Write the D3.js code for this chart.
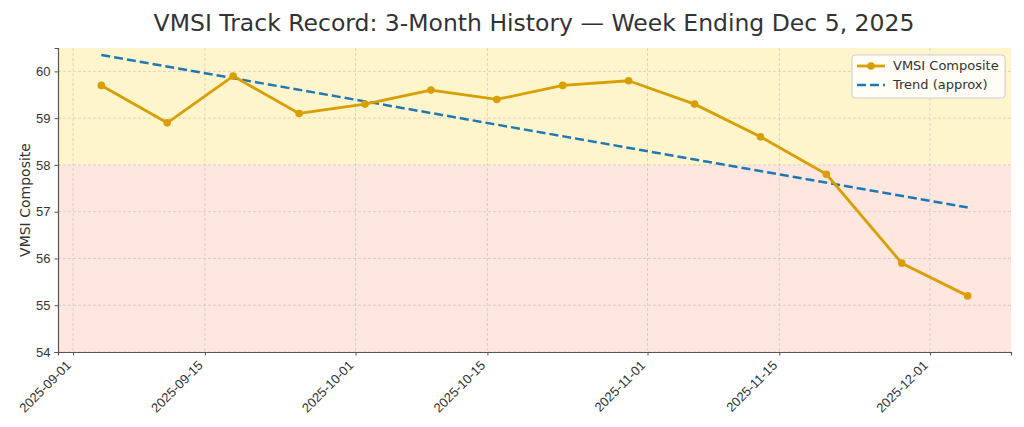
<!DOCTYPE html>
<html>
<head>
<meta charset="utf-8">
<script src="https://cdn.jsdelivr.net/npm/d3@7"></script>
<style>
  body { margin: 0; background: #fff; }
  svg { font-family: "DejaVu Sans", sans-serif; }
</style>
</head>
<body>
<svg id="chart" width="1024" height="427"></svg>
<script>
// weekly readings
var dates = ["2025-09-04", "2025-09-11", "2025-09-18", "2025-09-25", "2025-10-02", "2025-10-09",
	"2025-10-16", "2025-10-23", "2025-10-30", "2025-11-06", "2025-11-13", "2025-11-20",
	"2025-11-28", "2025-12-05"];
var values = [59.7, 58.9, 59.9, 59.1, 59.3, 59.6, 59.4, 59.7, 59.8, 59.3, 58.6, 57.8, 55.9, 55.2];

// fitted trend, endpoints only
var trendDates = ["2025-09-04", "2025-12-05"];
var trendValues = [60.35, 57.09];

var xTicks = ["2025-09-01", "2025-09-15", "2025-10-01", "2025-10-15", "2025-11-01", "2025-11-15", "2025-12-01"];
var yTicks = [54, 55, 56, 57, 58, 59, 60];
var zoneSplit = 58;

var parse = d3.utcParse("%Y-%m-%d");
var fmt = d3.utcFormat("%Y-%m-%d");

var svg = d3.select("#chart"),
	margin = {top: 48, right: 13, bottom: 75, left: 58},
	width = +svg.attr("width") - margin.left - margin.right,
	height = +svg.attr("height") - margin.top - margin.bottom;

var pts = dates.map(function(d, i){ return {date: parse(d), value: values[i]}; });
var trend = trendDates.map(function(d, i){ return {date: parse(d), value: trendValues[i]}; });

// matplotlib-ish 5% padding on x
var x0 = pts[0].date, x1 = pts[pts.length - 1].date;
var pad = (x1 - x0) * 0.05;
var x = d3.scaleUtc()
	.domain([new Date(+x0 - pad), new Date(+x1 + pad)])
	.range([0, width]);
var y = d3.scaleLinear().domain([54, 60.5]).range([height, 0]);

var g = svg.append("g").attr("transform", "translate(" + margin.left + "," + margin.top + ")");

// zones
g.append("rect")
	.attr("x", 0).attr("y", y(60.5))
	.attr("width", width).attr("height", y(zoneSplit) - y(60.5))
	.style("fill", "#fff5cc");
g.append("rect")
	.attr("x", 0).attr("y", y(zoneSplit))
	.attr("width", width).attr("height", y(54) - y(zoneSplit))
	.style("fill", "#ffe7df");

// grid
g.append("g").selectAll("line")
	.data(xTicks)
	.enter().append("line")
	.attr("x1", function(d){ return x(parse(d)); })
	.attr("x2", function(d){ return x(parse(d)); })
	.attr("y1", 0).attr("y2", height)
	.style("stroke", "#b0b0b0").style("stroke-opacity", 0.6)
	.style("stroke-width", 0.8).style("stroke-dasharray", "3,2");
g.append("g").selectAll("line")
	.data(yTicks)
	.enter().append("line")
	.attr("x1", 0).attr("x2", width)
	.attr("y1", function(d){ return y(d); })
	.attr("y2", function(d){ return y(d); })
	.style("stroke", "#b0b0b0").style("stroke-opacity", 0.6)
	.style("stroke-width", 0.8).style("stroke-dasharray", "3,2");

// trend
var line = d3.line()
	.x(function(d){ return x(d.date); })
	.y(function(d){ return y(d.value); });

g.append("path")
	.datum(trend)
	.attr("d", line)
	.style("fill", "none")
	.style("stroke", "#1f77b4")
	.style("stroke-width", 2.5)
	.style("stroke-dasharray", "9,4");

// composite
g.append("path")
	.datum(pts)
	.attr("d", line)
	.style("fill", "none")
	.style("stroke", "#d99e00")
	.style("stroke-width", 2.8)
	.style("stroke-linejoin", "round");

g.append("g").selectAll("circle")
	.data(pts)
	.enter().append("circle")
	.attr("cx", function(d){ return x(d.date); })
	.attr("cy", function(d){ return y(d.value); })
	.attr("r", 3.8)
	.style("fill", "#d99e00");

// axes
var xAxis = g.append("g")
	.attr("transform", "translate(0," + height + ")")
	.call(d3.axisBottom(x).tickValues(xTicks.map(parse)).tickFormat(fmt).tickSize(3.5).tickPadding(3));
xAxis.selectAll("text")
	.attr("text-anchor", "end")
	.attr("x", 0)
	.attr("y", 0)
	.attr("dy", "0.35em")
	.attr("transform", "translate(-5,11) rotate(-45)")
	.style("font-size", "13px")
	.style("fill", "#333");

var yAxis = g.append("g")
	.call(d3.axisLeft(y).tickValues(yTicks).tickFormat(d3.format("d")).tickSize(3.5).tickPadding(4));
yAxis.selectAll("text").style("font-size", "13px").style("fill", "#333");

[xAxis, yAxis].forEach(function(a){
	a.select(".domain").style("stroke", "#555").style("stroke-width", 1.2);
	a.selectAll(".tick line").style("stroke", "#555");
});

g.append("text")
	.attr("transform", "rotate(-90)")
	.attr("x", -height / 2)
	.attr("y", -28)
	.attr("text-anchor", "middle")
	.style("font-size", "14px")
	.style("fill", "#333")
	.text("VMSI Composite");

// title
svg.append("text")
	.attr("x", 534)
	.attr("y", 31)
	.attr("text-anchor", "middle")
	.style("font-size", "23.5px")
	.style("fill", "#333")
	.text("VMSI Track Record: 3-Month History \u2014 Week Ending Dec 5, 2025");

// legend
var legend = g.append("g").attr("transform", "translate(" + (width - 159) + ",7)");
legend.append("rect")
	.attr("width", 153).attr("height", 43).attr("rx", 3)
	.style("fill", "#fff").style("fill-opacity", 0.8)
	.style("stroke", "#ccc");
legend.append("line")
	.attr("x1", 5).attr("x2", 33).attr("y1", 11).attr("y2", 11)
	.style("stroke", "#d99e00").style("stroke-width", 2.8);
legend.append("circle")
	.attr("cx", 19).attr("cy", 11).attr("r", 3.8).style("fill", "#d99e00");
legend.append("line")
	.attr("x1", 5).attr("x2", 33).attr("y1", 30).attr("y2", 30)
	.style("stroke", "#1f77b4").style("stroke-width", 2.5).style("stroke-dasharray", "9,4");
legend.selectAll("text.lbl")
	.data(["VMSI Composite", "Trend (approx)"])
	.enter().append("text")
	.attr("class", "lbl")
	.attr("x", 41)
	.attr("y", function(d, i){ return 15 + i * 19; })
	.style("font-size", "13px")
	.style("fill", "#333")
	.text(function(d){ return d; });
</script>
</body>
</html>
